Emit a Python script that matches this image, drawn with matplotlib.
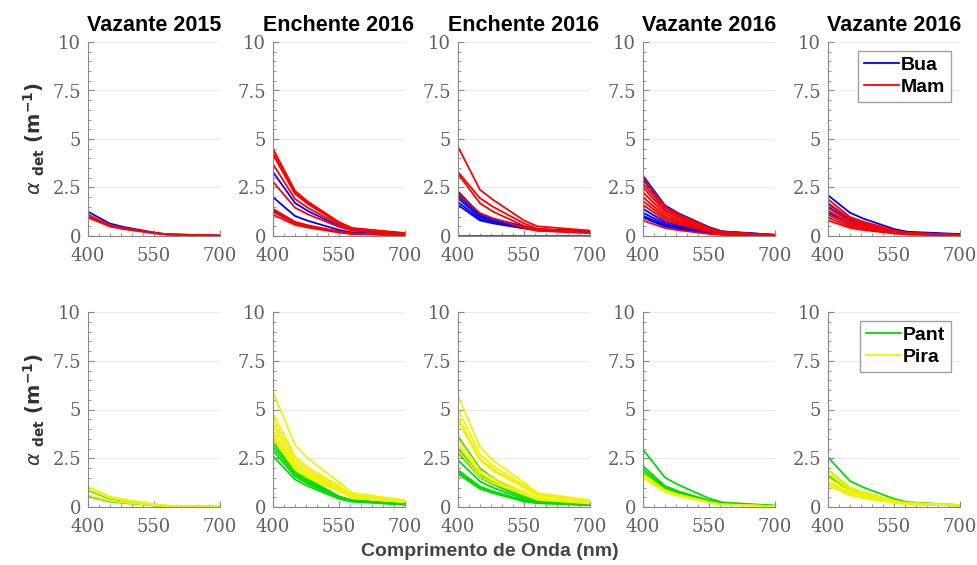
import matplotlib.pyplot as plt
from matplotlib.ticker import MultipleLocator

wl = [400, 450, 480, 550, 580, 700]

titles = ["Vazante 2015", "Enchente 2016", "Enchente 2016", "Vazante 2016", "Vazante 2016"]

# top row: Bua (blue) and Mam (red), one list of curves per panel
bua = [
    [[1.25, 0.64, 0.47, 0.18, 0.09, 0.02]],
    [[3.3, 1.7, 1.28, 0.52, 0.29, 0.1],
     [2.0, 1.03, 0.78, 0.31, 0.18, 0.06],
     [1.3, 0.68, 0.51, 0.21, 0.13, 0.05]],
    [[2.3, 1.11, 0.89, 0.5, 0.35, 0.25],
     [2.1, 1.03, 0.82, 0.47, 0.34, 0.25],
     [1.95, 0.96, 0.77, 0.45, 0.33, 0.24],
     [1.75, 0.87, 0.7, 0.41, 0.31, 0.23],
     [1.6, 0.8, 0.65, 0.39, 0.29, 0.22]],
    [[3.1, 1.58, 1.18, 0.46, 0.24, 0.06],
     [2.9, 1.48, 1.11, 0.43, 0.23, 0.06],
     [1.4, 0.72, 0.54, 0.22, 0.12, 0.04],
     [1.2, 0.62, 0.47, 0.19, 0.11, 0.04],
     [1.05, 0.54, 0.41, 0.16, 0.09, 0.03],
     [0.95, 0.49, 0.37, 0.15, 0.08, 0.03]],
    [[2.1, 1.2, 0.9, 0.36, 0.22, 0.1],
     [1.65, 0.9, 0.68, 0.28, 0.17, 0.08],
     [1.5, 0.82, 0.62, 0.26, 0.16, 0.08],
     [1.2, 0.66, 0.5, 0.22, 0.14, 0.07]],
]
mam = [
    [[1.1, 0.56, 0.42, 0.16, 0.08, 0.02],
     [1.0, 0.51, 0.38, 0.15, 0.08, 0.02],
     [0.95, 0.49, 0.36, 0.14, 0.08, 0.02]],
    [[4.5, 2.33, 1.76, 0.72, 0.41, 0.15],
     [4.3, 2.22, 1.68, 0.68, 0.39, 0.14],
     [4.2, 2.17, 1.64, 0.66, 0.37, 0.13],
     [3.7, 1.91, 1.44, 0.59, 0.33, 0.12],
     [2.8, 1.46, 1.11, 0.47, 0.28, 0.12],
     [1.4, 0.73, 0.55, 0.23, 0.13, 0.05],
     [1.25, 0.65, 0.49, 0.21, 0.12, 0.05],
     [1.1, 0.57, 0.43, 0.18, 0.1, 0.04]],
    [[4.6, 2.38, 1.86, 0.8, 0.5, 0.28],
     [3.3, 1.95, 1.5, 0.65, 0.38, 0.2],
     [3.2, 1.69, 1.25, 0.52, 0.3, 0.15],
     [2.2, 1.18, 0.91, 0.42, 0.27, 0.15],
     [0.0, 0.0, 0.0, 0.0, 0.0, 0.0]],
    [[3.0, 1.52, 1.14, 0.42, 0.22, 0.04],
     [2.7, 1.37, 1.02, 0.39, 0.2, 0.04],
     [2.5, 1.27, 0.95, 0.36, 0.19, 0.04],
     [2.25, 1.14, 0.85, 0.32, 0.16, 0.03],
     [2.0, 1.02, 0.76, 0.29, 0.15, 0.03],
     [1.8, 0.92, 0.68, 0.26, 0.14, 0.03],
     [1.6, 0.82, 0.61, 0.23, 0.12, 0.03],
     [0.8, 0.41, 0.3, 0.11, 0.06, 0.01]],
    [[1.9, 0.98, 0.74, 0.3, 0.17, 0.06],
     [1.7, 0.88, 0.66, 0.26, 0.15, 0.05],
     [1.45, 0.75, 0.57, 0.23, 0.13, 0.05],
     [1.3, 0.67, 0.5, 0.2, 0.12, 0.04],
     [1.1, 0.57, 0.43, 0.18, 0.1, 0.04],
     [0.95, 0.49, 0.37, 0.15, 0.09, 0.03],
     [0.8, 0.42, 0.31, 0.13, 0.08, 0.03]],
]

# bottom row: Pant (green) and Pira (yellow)
pant = [
    [[0.85, 0.43, 0.32, 0.12, 0.06, 0.01],
     [0.55, 0.28, 0.21, 0.08, 0.04, 0.01]],
    [[3.5, 1.89, 1.42, 0.55, 0.35, 0.15],
     [3.3, 1.78, 1.34, 0.52, 0.33, 0.14],
     [3.1, 1.68, 1.26, 0.5, 0.32, 0.14],
     [2.9, 1.57, 1.18, 0.46, 0.3, 0.13],
     [2.6, 1.41, 1.06, 0.42, 0.27, 0.12]],
    [[3.6, 1.97, 1.49, 0.61, 0.4, 0.2],
     [3.0, 1.64, 1.25, 0.51, 0.34, 0.17],
     [2.8, 1.53, 1.16, 0.47, 0.31, 0.15],
     [2.4, 1.31, 0.99, 0.4, 0.27, 0.13],
     [1.9, 1.05, 0.8, 0.33, 0.23, 0.12],
     [1.8, 0.98, 0.75, 0.3, 0.2, 0.1],
     [1.7, 0.93, 0.71, 0.29, 0.2, 0.1]],
    [[2.95, 1.51, 1.14, 0.44, 0.24, 0.07],
     [2.1, 1.08, 0.81, 0.33, 0.18, 0.06],
     [1.95, 1.0, 0.76, 0.31, 0.17, 0.06],
     [1.8, 0.93, 0.7, 0.28, 0.16, 0.05]],
    [[2.55, 1.33, 1.01, 0.42, 0.25, 0.1],
     [1.9, 0.99, 0.75, 0.32, 0.19, 0.08],
     [1.6, 0.84, 0.64, 0.27, 0.16, 0.07]],
]
pira = [
    [[1.05, 0.53, 0.39, 0.15, 0.07, 0.01],
     [0.9, 0.46, 0.34, 0.13, 0.06, 0.01],
     [0.6, 0.31, 0.23, 0.09, 0.05, 0.01]],
    [[5.9, 3.17, 2.48, 1.28, 0.72, 0.35],
     [4.8, 2.6, 2.02, 1.08, 0.63, 0.32],
     [4.5, 2.44, 1.9, 1.01, 0.59, 0.3],
     [4.2, 2.28, 1.77, 0.95, 0.55, 0.28],
     [3.9, 2.12, 1.65, 0.89, 0.52, 0.27],
     [3.7, 2.01, 1.57, 0.84, 0.5, 0.26],
     [3.5, 1.91, 1.49, 0.8, 0.48, 0.25]],
    [[5.7, 3.08, 2.38, 1.26, 0.72, 0.35],
     [5.0, 2.71, 2.1, 1.12, 0.66, 0.33],
     [4.6, 2.49, 1.93, 1.03, 0.6, 0.3],
     [4.4, 2.39, 1.85, 0.99, 0.58, 0.29],
     [3.5, 1.89, 1.47, 0.78, 0.45, 0.22],
     [3.2, 1.73, 1.34, 0.71, 0.41, 0.2],
     [2.9, 1.57, 1.21, 0.64, 0.37, 0.18]],
    [[1.7, 0.87, 0.65, 0.26, 0.14, 0.04],
     [1.6, 0.82, 0.62, 0.24, 0.13, 0.04],
     [1.5, 0.77, 0.57, 0.22, 0.12, 0.03]],
    [[1.9, 1.0, 0.77, 0.33, 0.21, 0.1],
     [1.7, 0.9, 0.69, 0.31, 0.2, 0.1],
     [1.5, 0.8, 0.61, 0.27, 0.17, 0.09],
     [1.3, 0.7, 0.54, 0.25, 0.16, 0.09],
     [1.2, 0.64, 0.49, 0.23, 0.15, 0.08],
     [1.1, 0.59, 0.46, 0.21, 0.14, 0.08]],
]

W, H = 978, 565
fig = plt.figure(figsize=(W / 100, H / 100), dpi=100)

lefts = [88, 273, 458, 643, 828]
rows = [(42, 236), (312, 507)]
groups = [(bua, mam, "#0000ff", "#ff0000", "Bua", "Mam"),
          (pant, pira, "#00dd00", "#f2f200", "Pant", "Pira")]


def style_axis(ax):
    ax.set_xlim(400, 700)
    ax.set_ylim(0, 10)
    ax.set_xticks([400, 550, 700])
    ax.set_yticks([0, 2.5, 5, 7.5, 10])
    ax.set_yticklabels(["0", "2.5", "5", "7.5", "10"])
    ax.xaxis.set_minor_locator(MultipleLocator(25))
    ax.yaxis.set_minor_locator(MultipleLocator(0.5))
    for s in ["top", "right"]:
        ax.spines[s].set_visible(False)
    for s in ["left", "bottom"]:
        ax.spines[s].set_color("#888888")
    ax.tick_params(which="both", direction="in", colors="#888888",
                   labelcolor="#606060", labelsize=13)
    ax.tick_params(which="major", length=4)
    ax.tick_params(which="minor", length=2)
    ax.tick_params(axis="x", which="major", pad=8)
    ax.tick_params(axis="y", which="major", pad=5)
    for lab in ax.get_xticklabels() + ax.get_yticklabels():
        lab.set_family("DejaVu Serif")
    ax.grid(axis="y", color="#ebebeb", linewidth=0.8)
    ax.set_axisbelow(True)


for r, (top, bot) in enumerate(rows):
    g1, g2, c1, c2, n1, n2 = groups[r]
    for i, x0 in enumerate(lefts):
        ax = fig.add_axes([x0 / W, 1 - bot / H, 132 / W, (bot - top) / H])
        style_axis(ax)
        for k, y in enumerate(g1[i]):
            ax.plot(wl, y, color=c1, lw=1.3, label=n1 if k == 0 else None)
        for k, y in enumerate(g2[i]):
            ax.plot(wl, y, color=c2, lw=1.3, label=n2 if k == 0 else None)
        if r == 0:
            ax.set_title(titles[i], fontsize=15.5, fontweight="bold",
                         family="Liberation Sans", pad=8)
        if i == 0:
            ax.set_ylabel(r"$\alpha$ $_{\mathbf{det}}$ (m$^{\mathbf{-1}}$)",
                          fontsize=14, fontweight="bold", color="#333333",
                          labelpad=4)
        if i == 4:
            leg = ax.legend(loc="upper right", fontsize=14, frameon=True,
                            fancybox=False, edgecolor="#888888",
                            handlelength=1.8, handletextpad=0.1,
                            borderpad=0.3, labelspacing=0.2,
                            borderaxespad=0.45)
            leg.get_frame().set_linewidth(1.0)
            for t in leg.get_texts():
                t.set_fontweight("bold")
                t.set_family("Liberation Sans")

fig.text(490 / W, 1 - 551 / H, "Comprimento de Onda (nm)", ha="center",
         va="center", fontsize=14, fontweight="bold", color="#444444",
         family="Liberation Sans")

fig.savefig("out.png", dpi=100)
